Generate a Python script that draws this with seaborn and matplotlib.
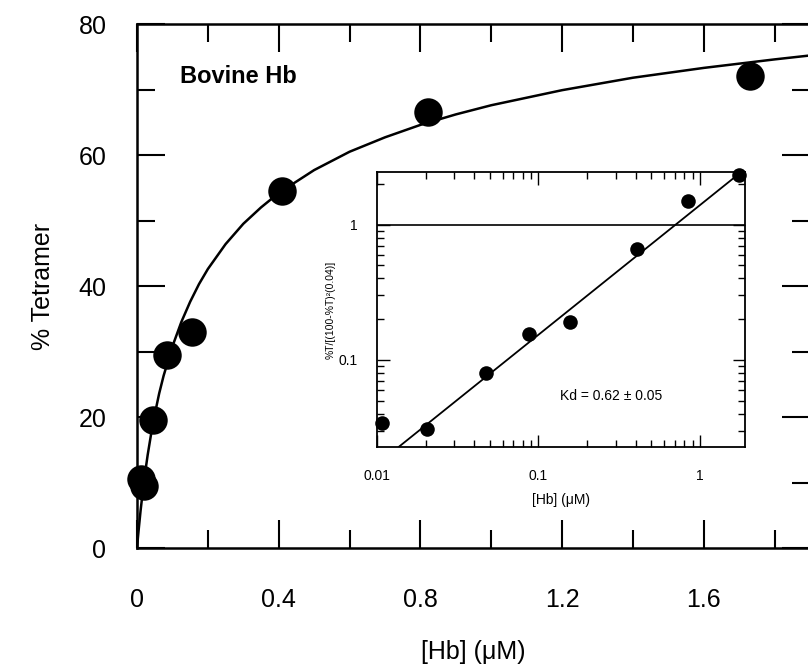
import numpy as np
import pandas as pd
import matplotlib
matplotlib.use("Agg")
import matplotlib.pyplot as plt
import seaborn as sns
from matplotlib.ticker import LogLocator, NullFormatter, FixedLocator

# ---------------- data ----------------
# main panel: % tetramer vs [Hb]
hb_uM = [0.01, 0.02, 0.045, 0.085, 0.155, 0.41, 0.82, 1.73]
pct_tetramer = [10.5, 9.5, 19.5, 29.5, 33.0, 54.5, 66.5, 72.0]

# fitted curve
fit_x = [0.0, 0.0025, 0.005, 0.01, 0.02, 0.03, 0.04, 0.05, 0.0625, 0.075,
         0.1, 0.125, 0.15, 0.175, 0.2, 0.25, 0.3, 0.35, 0.4, 0.5, 0.6,
         0.7, 0.8, 0.9, 1.0, 1.2, 1.4, 1.6, 1.8, 1.9]
fit_y = [0.0, 1.6, 3.0, 5.7, 10.4, 14.2, 17.5, 20.4, 23.6, 26.3,
         30.8, 34.5, 37.6, 40.3, 42.6, 46.4, 49.5, 52.0, 54.2, 57.7, 60.5,
         62.7, 64.6, 66.2, 67.6, 69.9, 71.8, 73.3, 74.6, 75.2]

# inset: %T/[(100-%T)^2(0.04)] vs [Hb] (log-log)
inset_x = [0.0107, 0.0204, 0.0475, 0.087, 0.156, 0.41, 0.84, 1.75]
inset_y = [0.034, 0.031, 0.080, 0.156, 0.19, 0.66, 1.49, 2.31]
line_x = [0.0136, 1.8]
line_y = [0.0227, 2.45]

main_xticks = [0, 0.4, 0.8, 1.2, 1.6]
main_xlabels = ["0", "0.4", "0.8", "1.2", "1.6"]
main_yticks = [0, 20, 40, 60, 80]

# ---------------- style ----------------
sns.set_style("ticks")
plt.rcParams['font.family'] = ['Liberation Sans', 'DejaVu Sans']
plt.rcParams['text.color'] = 'black'
plt.rcParams['axes.labelcolor'] = 'black'
plt.rcParams['xtick.color'] = 'black'
plt.rcParams['ytick.color'] = 'black'
plt.rcParams['axes.edgecolor'] = 'black'

fig = plt.figure(figsize=(8.08, 6.67), dpi=100)
ax = fig.add_axes([0.1696, 0.1784, 0.8330, 0.7856])

pts = pd.DataFrame({"Hb": hb_uM, "T": pct_tetramer})
fit = pd.DataFrame({"Hb": fit_x, "T": fit_y})

sns.lineplot(data=fit, x="Hb", y="T", ax=ax, color="black", lw=1.8,
             estimator=None, sort=False)
sns.scatterplot(data=pts, x="Hb", y="T", ax=ax, color="black", s=420,
                edgecolor="black", linewidth=0, zorder=3, clip_on=False)

ax.set_xlim(0, 1.9)
ax.set_ylim(0, 80)
ax.xaxis.set_major_locator(FixedLocator(main_xticks))
ax.set_xticklabels(main_xlabels)
ax.xaxis.set_minor_locator(FixedLocator([0.2, 0.6, 1.0, 1.4, 1.8]))
ax.yaxis.set_major_locator(FixedLocator(main_yticks))
ax.yaxis.set_minor_locator(FixedLocator([10, 30, 50, 70]))
ax.tick_params(which="both", direction="in", top=True, right=True,
               width=1.5, labelsize=18)
ax.tick_params(axis="x", which="both", pad=29)
ax.tick_params(axis="y", which="both", pad=22)
ax.tick_params(which="major", length=20)
ax.tick_params(which="minor", length=13)
for sp in ax.spines.values():
    sp.set_linewidth(1.8)
    sp.set_visible(True)

ax.set_xlabel("[Hb] (\u03bcM)", fontsize=18, labelpad=20)
ax.set_ylabel("% Tetramer", fontsize=18, labelpad=17)
ax.text(0.064, 0.90, "Bovine Hb", transform=ax.transAxes, fontsize=17,
        fontweight="bold", va="center", ha="left")

# ---------------- inset ----------------
ins = fig.add_axes([0.4666, 0.3298, 0.4554, 0.4123])
ins.set_xscale("log")
ins.set_yscale("log")
ins.axhline(1, color="black", lw=1.2)
sns.lineplot(x=line_x, y=line_y, ax=ins, color="black", lw=1.3,
             estimator=None, sort=False)
sns.scatterplot(x=inset_x, y=inset_y, ax=ins, color="black", s=110,
                linewidth=0, zorder=3, clip_on=False)
ins.set_xlim(0.01, 1.9)
ins.set_ylim(0.0227, 2.45)
ins.xaxis.set_major_locator(FixedLocator([0.01, 0.1, 1]))
ins.set_xticklabels(["0.01", "0.1", "1"])
ins.xaxis.set_minor_locator(LogLocator(base=10, subs=np.arange(2, 10)))
ins.xaxis.set_minor_formatter(NullFormatter())
ins.yaxis.set_major_locator(FixedLocator([0.1, 1]))
ins.set_yticklabels(["0.1", "1"])
ins.yaxis.set_minor_locator(LogLocator(base=10, subs=np.arange(2, 10)))
ins.yaxis.set_minor_formatter(NullFormatter())
ins.tick_params(which="both", direction="in", top=True, right=True,
                width=1.0, labelsize=10)
ins.tick_params(axis="x", which="both", pad=16)
ins.tick_params(axis="y", which="both", pad=14)
ins.tick_params(which="major", length=9)
ins.tick_params(which="minor", length=5)
for sp in ins.spines.values():
    sp.set_linewidth(1.3)
ins.set_xlabel("[Hb] (\u03bcM)", fontsize=10, labelpad=7)
ins.set_ylabel("%T/[(100-%T)\u00b2(0.04)]", fontsize=7.5, labelpad=2)
ins.text(0.497, 0.185, "Kd = 0.62 \u00b1 0.05", transform=ins.transAxes,
         fontsize=10, va="center", ha="left")

fig.savefig("out.png", dpi=100)
